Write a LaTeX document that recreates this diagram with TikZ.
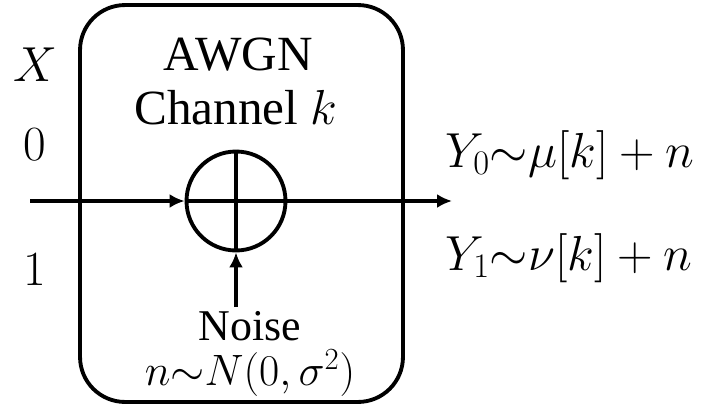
\documentclass[tikz,border=0pt]{standalone}
\usepackage{fix-cm}
\usepackage{fontspec}
\setmainfont{Liberation Serif}
\usetikzlibrary{arrows.meta, positioning}

\begin{document}
\begin{tikzpicture}[
    x=0.02cm, y=-0.02cm,
    chanbox/.style={rectangle, draw, line width=2.2pt, rounded corners=0.9cm, minimum width=6.46cm, minimum height=7.94cm},
    adder/.style={circle, draw, line width=2.2pt, minimum size=1.98cm, inner sep=0pt},
    lbl/.style={font=\fontsize{28}{34}\selectfont, inner sep=0pt},
    small/.style={font=\fontsize{25}{30}\selectfont, inner sep=0pt},
    arrow/.style={-{Latex[length=3mm, width=2.8mm]}, line width=2.2pt}
]
    \useasboundingbox (0,0) rectangle (726,416);

    % channel
    \node[chanbox] (chan) at (241.5,203.5) {};
    \node[lbl] (awgn) at (238,55) {AWGN};
    \node[lbl] (chname) at (236,108) {Channel $k$};
    \node[adder] (sum) at (236,201) {};
    \draw[line width=1.8pt] (sum.north) -- (sum.south);
    \draw[line width=1.8pt] (sum.west) -- (sum.east);

    % input side
    \node[lbl] (xin) at (35,65) {$X$};
    \node[lbl] (zero) at (35,145) {$0$};
    \node[lbl] (one) at (35,270) {$1$};
    \coordinate (in) at (30,201);
    \coordinate (out) at (452,201);
    \draw[arrow] (in) -- (sum.west);
    \draw[arrow, shorten <=-1pt] (sum.east) -- (out);

    % noise
    \node[small] (noise) at (250,326) {Noise};
    \node[small] (ndist) at (250,373) {$n{\sim}N(0,\sigma^2)$};
    \coordinate (nsrc) at (236,307);
    \draw[arrow] (nsrc) -- (sum.south);

    % outputs
    \node[lbl, anchor=west] (yzero) at (445,155) {$Y_0{\sim}\mu[k]+n$};
    \node[lbl, anchor=west] (yone) at (445,258) {$Y_1{\sim}\nu[k]+n$};
\end{tikzpicture}
\end{document}
